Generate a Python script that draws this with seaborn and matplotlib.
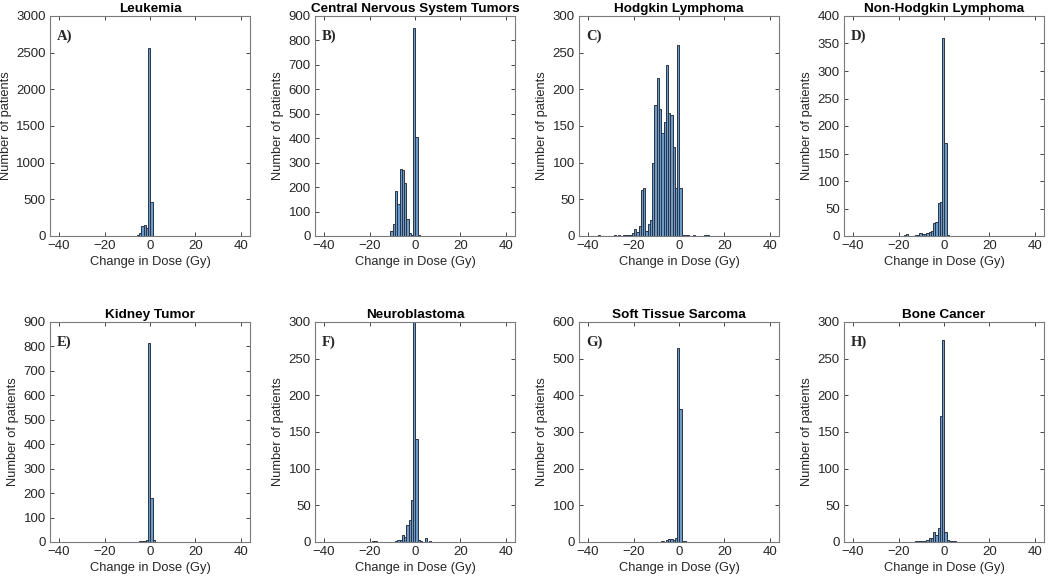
import numpy as np
import pandas as pd
import seaborn as sns
import matplotlib.pyplot as plt

# histogram counts per 1 Gy bin, bin k covers [k-0.8, k+0.2]
titles = ["Leukemia", "Central Nervous System Tumors", "Hodgkin Lymphoma", "Non-Hodgkin Lymphoma",
          "Kidney Tumor", "Neuroblastoma", "Soft Tissue Sarcoma", "Bone Cancer"]
letters = ["A)", "B)", "C)", "D)", "E)", "F)", "G)", "H)"]
y_max = [3000, 900, 300, 400, 900, 300, 600, 300]
y_step = [500, 100, 50, 50, 100, 50, 100, 50]

# first bin index of each count list
leuk_start = -6
leuk_counts = [3, 10, 40, 130, 145, 110, 2560, 470, 3]

cns_start = -11
cns_counts = [2, 20, 48, 185, 130, 275, 272, 215, 70, 12, 4, 850, 405, 3]

hodg_start = -35
hodg_counts = [1, 0, 0, 0, 0, 0, 0, 1, 0, 1, 0, 1, 1, 2, 2, 4, 10, 6, 13, 63, 65, 7, 17, 22,
               100, 178, 215, 173, 140, 155, 233, 168, 165, 122, 65, 260, 65, 2, 2, 1, 0, 0, 2,
               0, 0, 0, 0, 1, 1]

nhl_start = -17
nhl_counts = [1, 4, 0, 0, 0, 1, 1, 5, 4, 3, 5, 7, 10, 23, 25, 60, 62, 360, 170, 1]

kid_start = -5
kid_counts = [2, 4, 3, 5, 8, 815, 178, 10]

neuro_start = -18
neuro_counts = [1, 1, 0, 0, 0, 0, 0, 0, 0, 0, 2, 3, 3, 9, 7, 23, 30, 57, 320, 140, 3, 1, 0, 5, 0, 1]

sts_start = -20
sts_counts = [1, 0, 0, 0, 0, 0, 1, 0, 0, 0, 0, 1, 0, 2, 0, 6, 8, 7, 5, 12, 530, 363, 4, 2, 1]

bone_start = -12
bone_counts = [1, 1, 2, 1, 2, 3, 6, 5, 13, 10, 19, 172, 275, 13, 3, 2, 1, 1]

starts = [leuk_start, cns_start, hodg_start, nhl_start, kid_start, neuro_start, sts_start, bone_start]
counts = [leuk_counts, cns_counts, hodg_counts, nhl_counts, kid_counts, neuro_counts, sts_counts, bone_counts]

sns.set_theme(style="white")
plt.rcParams['font.family'] = ['Liberation Sans', 'DejaVu Sans']

fig = plt.figure(figsize=(10.5, 5.81), dpi=100)

lefts = [50, 315, 579, 844]
bottoms = [1 - 236 / 581, 1 - 542 / 581]
w, h = 200 / 1050, 220 / 581
ink = "#262626"

for i in range(8):
    r, c = divmod(i, 4)
    ax = fig.add_axes([lefts[c] / 1050, bottoms[r], w, h])
    n = len(counts[i])
    df = pd.DataFrame({"dose": starts[i] - 0.3 + np.arange(n), "n": counts[i]})
    sns.histplot(data=df, x="dose", weights="n", binwidth=1.0,
                 binrange=(starts[i] - 0.8, starts[i] + n - 0.8), ax=ax,
                 color="#6b9bcb", edgecolor="#2b3545", linewidth=0.7, alpha=1)
    ax.set_xlim(-44, 44)
    ax.set_ylim(0, y_max[i])
    ax.set_xticks([-40, -20, 0, 20, 40])
    ax.set_yticks(np.arange(0, y_max[i] + 1, y_step[i]))
    ax.tick_params(direction="in", length=3, width=0.6, colors=ink, labelsize=9.5,
                   top=True, right=True, bottom=True, left=True, pad=3)
    ax.tick_params(axis="x", labeltop=False)
    ax.tick_params(axis="y", labelright=False)
    for s in ax.spines.values():
        s.set_color("#7a7a7a")
        s.set_linewidth(0.8)
    ax.set_title(titles[i], fontsize=9.7, fontweight="bold", color="black", pad=3)
    ax.set_xlabel("Change in Dose (Gy)", fontsize=9.3, color=ink, labelpad=3)
    ax.set_ylabel("Number of patients", fontsize=9.3, color=ink, labelpad=3)
    ax.text(0.035, 0.94, letters[i], transform=ax.transAxes, va="top", ha="left",
            fontsize=10.5, fontweight="bold", family=["Liberation Serif", "DejaVu Serif"])

fig.savefig("out.png", dpi=100)
